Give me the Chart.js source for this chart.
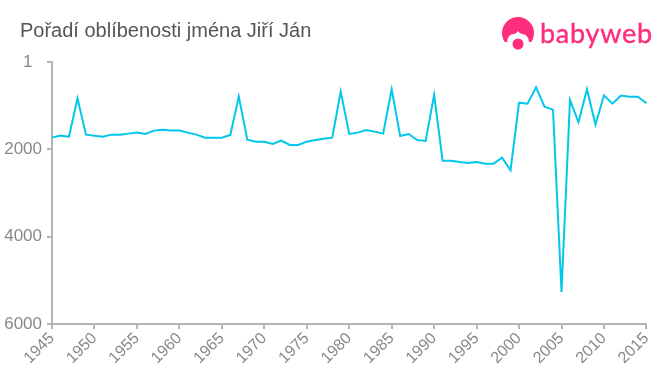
<!DOCTYPE html>
<html>
<head>
<meta charset="utf-8">
<style>
  html, body { margin: 0; padding: 0; background: #fff; }
  #wrap { position: relative; width: 660px; height: 375px; overflow: hidden; }
  #title { position: absolute; left: 20px; top: 19px; font: 20px "Liberation Sans", Arial, sans-serif; color: #555; white-space: nowrap; }
  #logo { position: absolute; left: 500px; top: 14px; }
  #brand { position: absolute; left: 540px; top: 16px; font: 27px Lato, sans-serif; letter-spacing: 0.75px; color: #ff2d7d; white-space: nowrap; -webkit-text-stroke: 0.4px #ff2d7d; }
</style>
</head>
<body>
<div id="wrap">
  <canvas id="chart" width="660" height="375"></canvas>
  <div id="title">Pořadí oblíbenosti jména Jiří Ján</div>
  <svg id="logo" width="38" height="38" viewBox="0 0 38 38">
    <circle cx="18" cy="19" r="16" fill="#ff2d7d"/>
    <rect x="0" y="28" width="38" height="10" fill="#fff"/>
    <path d="M7 28 Q8 20 14 20 Q16 20 18 17 Q20 20 22 20 Q28 20 29 28 Q28 34 18 36 Q8 34 7 28 Z" fill="#fff"/>
    <circle cx="18" cy="30" r="5.5" fill="#ff2d7d"/>
  </svg>
  <div id="brand">babyweb</div>
</div>
<script src="https://cdn.jsdelivr.net/npm/chart.js@4"></script>
<script>
const years = [];
for (let y = 1945; y <= 2015; y++) years.push(y);

const ranks = [
  1733, 1687, 1710, 832, 1664, 1687, 1710, 1664, 1664, 1641,
  1618, 1650, 1572, 1550, 1572, 1572, 1618, 1664, 1733, 1733,
  1733, 1670, 794, 1779, 1825, 1825, 1878, 1802, 1901, 1901,
  1825, 1787, 1756, 1733, 680, 1649, 1618, 1557, 1595, 1641,
  625, 1695, 1649, 1787, 1810, 756, 2260, 2260, 2290, 2313,
  2290, 2328, 2328, 2191, 2481, 932, 955, 580, 1023, 1092,
  5267, 870, 1382, 625, 1436, 763, 955, 771, 794, 794, 947
];

const yTicks = [1, 2000, 4000, 6000];
const axisColor = "#b3b3b3";
const fontFamily = "'Liberation Sans', Arial, sans-serif";

new Chart(document.getElementById("chart"), {
  type: "line",
  data: {
    labels: years,
    datasets: [{
      data: ranks,
      borderColor: "#00c8e8",
      borderWidth: 2,
      pointRadius: 0,
      tension: 0,
      fill: false
    }]
  },
  options: {
    responsive: false,
    animation: false,
    layout: { padding: { top: 62, right: 13, left: 0, bottom: 0 } },
    plugins: { legend: { display: false }, tooltip: { enabled: false } },
    scales: {
      x: {
        type: "category",
        offset: false,
        afterFit: scale => { scale.height = 51; },
        border: { color: axisColor, width: 2 },
        grid: { drawOnChartArea: false, drawTicks: true, tickLength: 5, tickColor: axisColor, lineWidth: ctx => (ctx.tick && ctx.tick.label ? 2 : 0) },
        ticks: {
          autoSkip: false,
          minRotation: 45,
          maxRotation: 45,
          color: "#888",
          font: { family: fontFamily, size: 16 },
          padding: 0,
          callback: function (value) {
            const year = years[value];
            return year % 5 === 0 ? String(year) : null;
          }
        }
      },
      y: {
        reverse: true,
        min: 1,
        max: 6000,
        afterBuildTicks: scale => { scale.ticks = yTicks.map(v => ({ value: v })); },
        afterFit: scale => { scale.width = 52; },
        border: { color: axisColor, width: 2 },
        grid: { drawOnChartArea: false, drawTicks: true, tickLength: 5, tickColor: axisColor, lineWidth: 2 },
        ticks: {
          color: "#888",
          font: { family: fontFamily, size: 17 },
          padding: 5,
          // the top label sits further left in the original
          callback: value => (value === 1 ? "1  " : String(value))
        }
      }
    }
  }
});
</script>
</body>
</html>
